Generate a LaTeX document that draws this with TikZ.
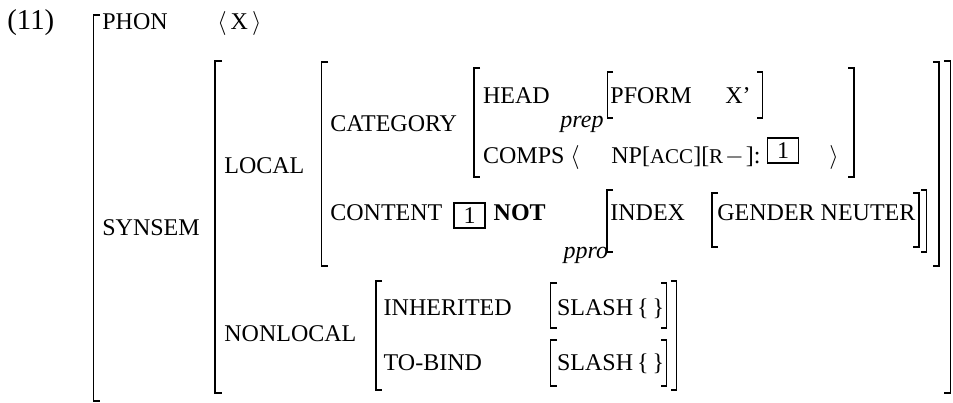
\documentclass[tikz,border=0pt]{standalone}
\usepackage{fontspec}
\setmainfont{Liberation Serif}
\usepackage{amsmath}
\newcommand{\smc}[1]{{\fontsize{10.5}{11}\selectfont #1}}

\begin{document}
\begin{tikzpicture}[x=0.5pt,y=-0.5pt]
\tikzstyle{every node}+=[inner sep=0pt, anchor=base west, font=\fontsize{12}{14}\selectfont]
\tikzstyle{brk}=[black, line width=0.7pt]
\tikzstyle{tagbox}=[draw, line width=0.8pt, minimum width=15.5pt, minimum height=12.5pt, anchor=center]
\useasboundingbox (0,0) rectangle (953,402);
\node [font=\fontsize{14.4}{16}\selectfont] (num) at (7,29) {(11)};
\node (phon) at (102,29) {PHON};
\node (phonval) at (217,29) {$\langle$\,X\,$\rangle$};
\draw [brk] (100,15) -- (93.5,15) -- (93.5,401) -- (100,401);
\node (synsem) at (102,235) {SYNSEM};
\draw [brk] (222,61) -- (215,61) -- (215,393) -- (222,393);
\draw [brk] (944,61) -- (950.5,61) -- (950.5,393) -- (944,393);
\node (local) at (224,173) {LOCAL};
\draw [brk] (328,62) -- (321.7,62) -- (321.7,266) -- (328,266);
\draw [brk] (933,62) -- (939,62) -- (939,266) -- (933,266);
\node (cat) at (330,131) {CATEGORY};
\draw [brk] (480,68) -- (474,68) -- (474,177) -- (480,177);
\draw [brk] (848,68) -- (854,68) -- (854,177) -- (848,177);
\node (head) at (482.7,103.3) {HEAD};
\node (prep) at (560,127) {\itshape prep};
\draw [brk] (613,72) -- (607.3,72) -- (607.3,118) -- (613,118);
\draw [brk] (757,72) -- (762.7,72) -- (762.7,118) -- (757,118);
\node (pform) at (610,103.3) {PFORM};
\node (pformval) at (725,103.3) {X’};
\node (comps) at (482.7,163.3) {COMPS};
\node (compsl) at (570,163.3) {$\langle$};
\node (np) at (611,163.3) {NP[\smc{ACC}][\smc{R}\kern1pt$-$\kern1pt]:};
\node [tagbox] (tagb) at (783,150.5) {1};
\node (compsr) at (829,163.3) {$\rangle$};
\node (cont) at (330,220.7) {CONTENT};
\node [tagbox] (taga) at (469.5,215.7) {1};
\node (nott) at (493.3,220.7) {\bfseries NOT};
\node (ppro) at (563.3,258) {\itshape ppro};
\draw [brk] (613,190) -- (607,190) -- (607,252) -- (613,252);
\draw [brk] (921,190) -- (926.7,190) -- (926.7,252) -- (921,252);
\node (index) at (610,220) {INDEX};
\draw [brk] (718,193) -- (712,193) -- (712,247) -- (718,247);
\draw [brk] (913,193) -- (919,193) -- (919,247) -- (913,247);
\node (gender) at (717,220) {GENDER NEUTER};
\node (nonloc) at (224,341.7) {NONLOCAL};
\draw [brk] (382,281) -- (376,281) -- (376,390) -- (382,390);
\draw [brk] (671,281) -- (676.7,281) -- (676.7,390) -- (671,390);
\node (inher) at (383.3,315) {INHERITED};
\draw [brk] (557,283) -- (550.7,283) -- (550.7,328) -- (557,328);
\draw [brk] (661,283) -- (666.7,283) -- (666.7,328) -- (661,328);
\node (slasha) at (556.7,315) {SLASH\,\{\,\}};
\node (tobind) at (383.3,370) {TO-BIND};
\draw [brk] (557,340) -- (550.7,340) -- (550.7,386) -- (557,386);
\draw [brk] (661,340) -- (666.7,340) -- (666.7,386) -- (661,386);
\node (slashb) at (556.7,370) {SLASH\,\{\,\}};
\end{tikzpicture}
\end{document}
